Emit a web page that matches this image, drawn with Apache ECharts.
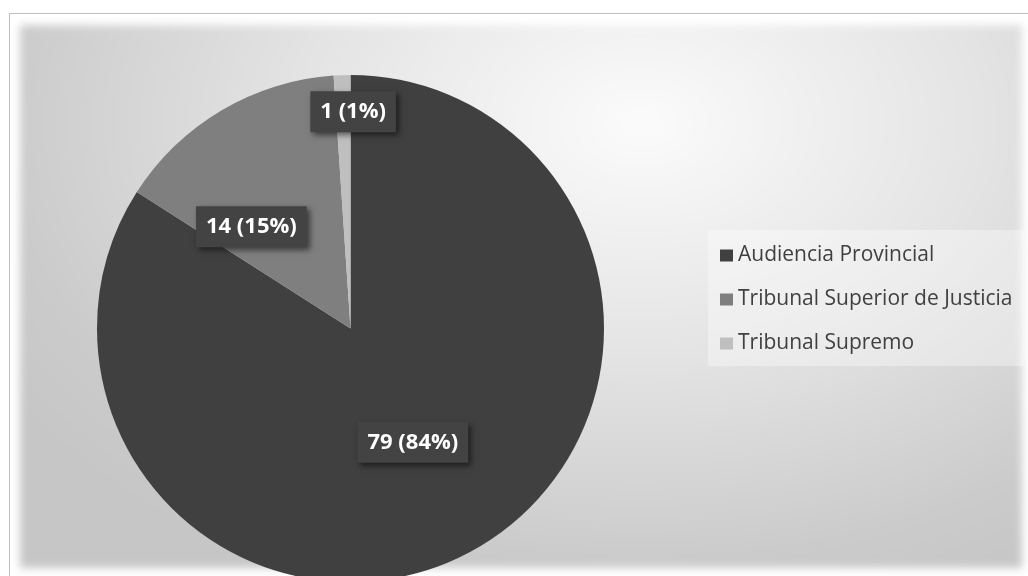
<!DOCTYPE html>
<html>
<head>
<meta charset="utf-8">
<script src="https://cdn.jsdelivr.net/npm/echarts@6/dist/echarts.min.js"></script>
<style>
	html, body { margin: 0; padding: 0; background: #fff; overflow: hidden; }
	#frame { position: absolute; left: 9px; top: 13px; width: 1040px; height: 600px; border: 1px solid #bfbfbf; box-sizing: border-box; }
	#bg { position: absolute; left: 20px; top: 25px; width: 1002px; height: 543px;
		background: radial-gradient(ellipse 75% 95% at 62% 18%, #fbfbfb 0%, #e4e4e4 45%, #cbcbcb 85%, #c6c6c6 100%);
		filter: blur(4px); }
	#chart { position: absolute; left: 0; top: 0; width: 1028px; height: 576px; }
</style>
</head>
<body>
<div id="frame"></div>
<div id="bg"></div>
<div id="chart"></div>
<script>
	/*数据*/
	var categories = ['Audiencia Provincial', 'Tribunal Superior de Justicia', 'Tribunal Supremo'];
	var values = [79, 14, 1];

	var colors = ['#404040', '#7f7f7f', '#bfbfbf'];

	var myChart = echarts.init(document.getElementById('chart'));

	var option = {
		animation: false,
		color: colors,
		legend: {
			orient: 'vertical',
			left: 708,
			top: 230,
			padding: [15, 12, 12, 12],
			backgroundColor: 'rgba(255,255,255,0.35)',
			itemWidth: 13,
			itemHeight: 12,
			itemGap: 23,
			icon: 'rect',
			textStyle: {
				fontFamily: 'Open Sans',
				fontSize: 21,
				color: '#404040'
			},
			data: categories
		},
		series: [{
			type: 'pie',
			center: [350.5, 328.5],
			radius: 253.5,
			startAngle: 90,
			clockwise: true,
			percentPrecision: 0,
			avoidLabelOverlap: false,
			itemStyle: { borderWidth: 0 },
			emphasis: { disabled: true },
			label: {
				show: true,
				position: 'inside',
				formatter: '{c} ({d}%)',
				fontFamily: 'Open Sans',
				fontWeight: 'bold',
				fontSize: 22,
				color: '#fff',
				backgroundColor: '#434343',
				padding: [10, 10, 9, 10],
				shadowColor: 'rgba(0,0,0,0.55)',
				shadowBlur: 6,
				shadowOffsetX: 3,
				shadowOffsetY: 3
			},
			labelLine: { show: false },
			labelLayout: function(params) {
				// 小扇区的标签位置
				if(params.dataIndex == 1) return { dx: -33, dy: 10 };
				if(params.dataIndex == 2) return { dx: 7, dy: -87 };
				return {};
			},
			data: categories.map(function(name, i) {
				return { name: name, value: values[i] };
			})
		}]
	};

	myChart.setOption(option);
</script>
</body>
</html>
